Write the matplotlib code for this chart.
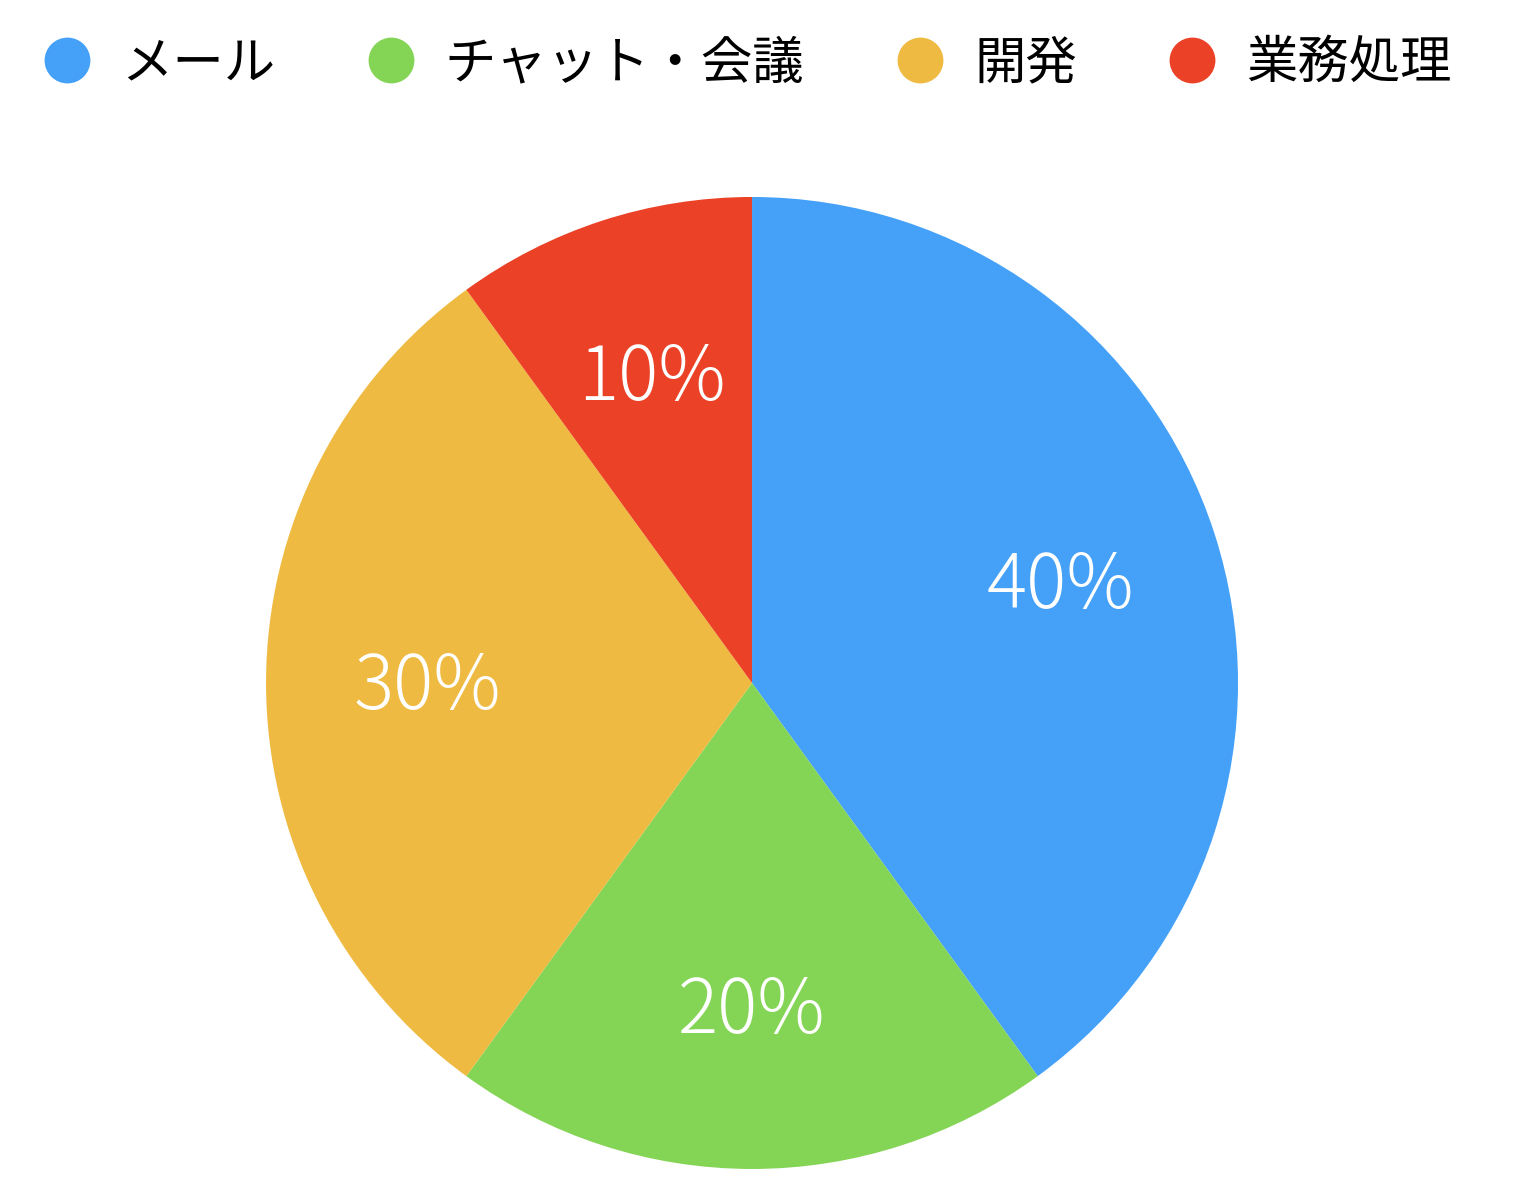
import matplotlib.pyplot as plt
from matplotlib.lines import Line2D
import numpy as np

plt.rcParams['font.family'] = ['Noto Sans CJK JP', 'DejaVu Sans']

# data
labels = ['メール', 'チャット・会議', '開発', '業務処理']
shares = [40, 20, 30, 10]
colors = ['#45A1F8', '#84D455', '#EFBA41', '#EB4126']

fig = plt.figure(figsize=(15.36, 11.96), dpi=100)
ax = fig.add_axes([0.1732, 0.0226, 0.6328, 0.8127])

wedges, texts = ax.pie(shares, colors=colors, startangle=90, counterclock=False,
                       wedgeprops=dict(linewidth=0))
ax.set_xlim(-1, 1)
ax.set_ylim(-1, 1)
ax.set_aspect('equal')
ax.axis('off')

# percent labels in the middle of each slice
for w, v in zip(wedges, shares):
    ang = np.deg2rad((w.theta1 + w.theta2) / 2)
    ax.text(0.668 * np.cos(ang), 0.668 * np.sin(ang) - 0.01, f'{v}%',
            ha='center', va='center', color='white', fontsize=54,
            fontweight='light')

handles = [Line2D([], [], marker='o', linestyle='none', markersize=33,
                  markerfacecolor=c, markeredgewidth=0) for c in colors]
fig.legend(handles, labels, loc='center', bbox_to_anchor=(0.487, 0.947),
           ncol=4, frameon=False, fontsize=37, handlelength=0.9,
           handletextpad=0.6, columnspacing=1.8)

fig.savefig('out.png', dpi=100)
